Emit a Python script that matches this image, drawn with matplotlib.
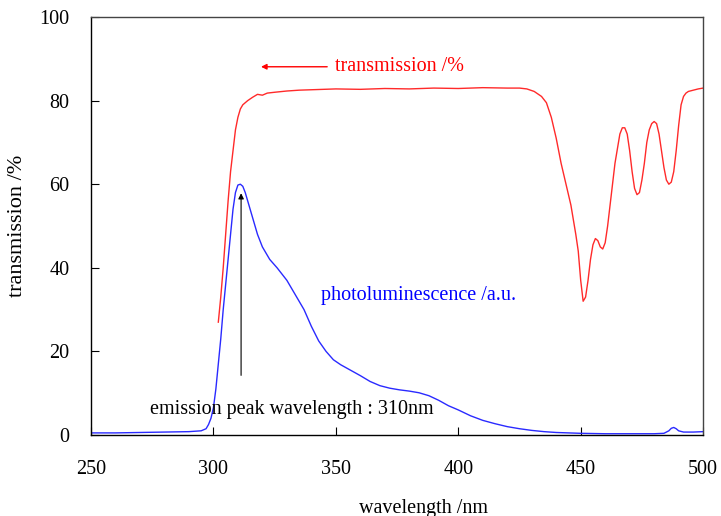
import matplotlib.pyplot as plt

plt.rcParams['font.family'] = ['Liberation Serif', 'DejaVu Serif']

# transmission spectrum (%)
trans_x = [302, 303, 304, 305, 306, 307, 308, 309, 310, 311, 312, 314, 316, 318, 320, 322,
           325, 330, 335, 340, 350, 360, 370, 380, 390, 400, 410, 420, 425, 428, 431, 434,
           436, 438, 440, 442, 444, 446, 448, 449, 450, 451, 452, 453, 454, 455, 456, 457,
           458, 459, 460, 461, 462, 464, 466, 467, 468, 469, 470, 471, 472, 473, 474, 475,
           476, 477, 478, 479, 480, 481, 482, 483, 484, 485, 486, 487, 488, 489, 490, 491,
           492, 493, 494, 496, 498, 500]
trans_y = [27, 33, 40, 48, 56, 63, 68, 73, 76, 78, 79, 80, 80.8, 81.5, 81.3, 81.8,
           82, 82.3, 82.5, 82.6, 82.8, 82.7, 82.9, 82.8, 83, 82.9, 83.1, 83, 83, 82.8, 82.2, 81,
           79.5, 76, 71, 65, 60, 55, 48, 44, 37, 32, 33, 37, 42, 45.5, 47, 46.5,
           45, 44.5, 46, 50, 55, 65, 72, 73.5, 73.5, 72, 68, 63, 59, 57.5, 58, 61,
           65, 70, 73, 74.5, 75, 74.5, 72, 68, 64, 61, 60, 60.5, 63, 68, 74, 79,
           81, 81.8, 82.2, 82.5, 82.8, 83]

# photoluminescence (a.u.)
pl_x = [250, 260, 270, 280, 290, 295, 297, 298, 299, 300, 301, 302, 303, 304, 305, 306,
        307, 308, 309, 310, 311, 312, 313, 314, 316, 318, 320, 323, 326, 330, 334, 337,
        340, 343, 346, 349, 352, 356, 360, 364, 368, 372, 376, 380, 384, 388, 392, 396,
        400, 405, 410, 415, 420, 425, 430, 435, 440, 445, 450, 460, 470, 480, 484, 486,
        487, 488, 489, 490, 492, 496, 500]
pl_y = [0.5, 0.5, 0.6, 0.7, 0.8, 1.0, 1.5, 2.5, 4, 6.5, 11, 17, 23, 30, 36, 42,
        48, 54, 58, 59.8, 60, 59.5, 58, 56, 52, 48, 45, 42, 40, 37, 33, 30,
        26, 22.5, 20, 18, 16.8, 15.5, 14.2, 12.8, 11.8, 11.2, 10.8, 10.5, 10.1, 9.4, 8.3, 7.0,
        6.0, 4.6, 3.5, 2.7, 2.0, 1.5, 1.1, 0.8, 0.6, 0.5, 0.4, 0.3, 0.3, 0.3, 0.4, 1.0,
        1.6, 1.8, 1.5, 1.0, 0.7, 0.7, 0.8]

x_ticks = [250, 300, 350, 400, 450, 500]
y_ticks = [0, 20, 40, 60, 80, 100]

fig = plt.figure(figsize=(7.21, 5.16), dpi=100)
ax = fig.add_axes([0.1262, 0.157, 0.849, 0.81])

ax.plot(trans_x, trans_y, color='#ff2a2a', linewidth=1)
ax.plot(pl_x, pl_y, color='#2a2aff', linewidth=1)

ax.set_xlim(250, 500)
ax.set_ylim(0, 100)
ax.set_xticks(x_ticks)
ax.set_yticks(y_ticks)
ax.tick_params(direction='in', length=6, labelsize=14.5, top=False, right=False)
ax.tick_params(axis='x', pad=18)
ax.tick_params(axis='y', pad=15.5)
for s in ax.spines.values():
    s.set_linewidth(1)
ax.spines['top'].set_color('#444444')
ax.spines['right'].set_color('#444444')

ax.set_xlabel('wavelength /nm', fontsize=14.5)
ax.xaxis.set_label_coords(0.5425, -0.152)
ax.set_ylabel('transmission /%', fontsize=16)
ax.yaxis.set_label_coords(-0.104, 0.5)

# annotations
ax.annotate('', xy=(318.3, 88.1), xytext=(347.6, 88.1),
            arrowprops=dict(arrowstyle='-|>', color='red', lw=1, mutation_scale=8))
ax.text(349.5, 88.1, 'transmission /%', color='red', fontsize=14.5, va='center')
ax.text(344, 33.3, 'photoluminescence /a.u.', color='blue', fontsize=14.5, va='center')
ax.annotate('', xy=(311.3, 58.5), xytext=(311.3, 13.6),
            arrowprops=dict(arrowstyle='-|>', color='black', lw=0.8, mutation_scale=8))
ax.text(274, 6, 'emission peak wavelength : 310nm', color='black', fontsize=14.5, va='center')

fig.savefig('out.png', dpi=100)
